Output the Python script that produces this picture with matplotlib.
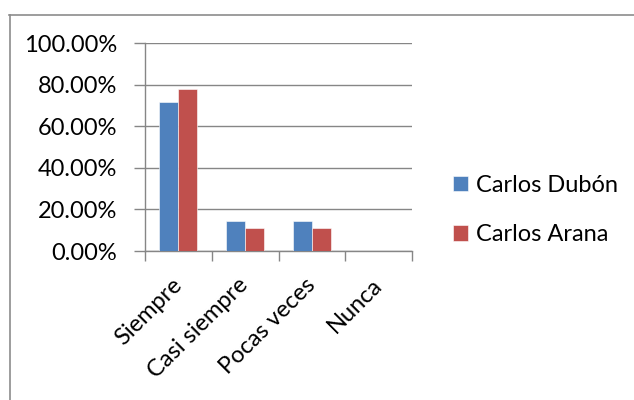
import matplotlib
matplotlib.use("Agg")
import matplotlib.pyplot as plt
from matplotlib.lines import Line2D
from matplotlib.ticker import FixedLocator, FuncFormatter

categories = ["Siempre", "Casi siempre", "Pocas veces", "Nunca"]
series_names = ["Carlos Dubón", "Carlos Arana"]
dubon = [71.43, 14.29, 14.29, 0.0]
arana = [77.78, 11.11, 11.11, 0.0]
y_ticks = [0, 20, 40, 60, 80, 100]

colors = ["#4F81BD", "#C0504D"]
grid_color = "#868686"

plt.rcParams["font.family"] = ["Lato", "DejaVu Sans"]
FS = 17

W, H = 634, 400
fig = plt.figure(figsize=(W / 100, H / 100), dpi=100)

# chart-area border (top and left edges)
fig.add_artist(Line2D([9 / W, 1.0], [1 - 14.5 / H, 1 - 14.5 / H],
                      color="#8C8C8C", lw=1.2, transform=fig.transFigure))
fig.add_artist(Line2D([9.5 / W, 9.5 / W], [0, 1 - 14.5 / H],
                      color="#8C8C8C", lw=1.2, transform=fig.transFigure))

left, right, top, bottom = 145, 412, 43, 251
ax = fig.add_axes([left / W, 1 - bottom / H, (right - left) / W, (bottom - top) / H])

bw = 0.285
centers = [i + 0.5 for i in range(len(categories))]
ax.bar([c - bw / 2 for c in centers], dubon, width=bw, color=colors[0],
       label=series_names[0], edgecolor="white", linewidth=0.4, zorder=3)
ax.bar([c + bw / 2 for c in centers], arana, width=bw, color=colors[1],
       label=series_names[1], edgecolor="white", linewidth=0.4, zorder=3)

ax.set_xlim(0, len(categories))
ax.set_ylim(0, 100)

ax.yaxis.set_major_locator(FixedLocator(y_ticks))
ax.yaxis.set_major_formatter(FuncFormatter(lambda v, p: f"{v:.2f}%"))
ax.grid(axis="y", color=grid_color, lw=1.0, zorder=0)
ax.tick_params(axis="y", length=8, width=1.0, color=grid_color, pad=12,
               labelsize=FS)

ax.set_xticks(range(len(categories) + 1))
ax.set_xticklabels([])
ax.set_xticks(centers, minor=True)
ax.set_xticklabels(categories, minor=True, rotation=45, ha="right",
                   va="center", rotation_mode="anchor", fontsize=FS)
ax.tick_params(axis="x", which="major", length=7, width=1.0, color=grid_color)
ax.tick_params(axis="x", which="minor", length=0, pad=22)

for s in ["top", "right"]:
    ax.spines[s].set_visible(False)
for s in ["left", "bottom"]:
    ax.spines[s].set_color(grid_color)
    ax.spines[s].set_linewidth(1.0)

fig.legend(loc="center left", bbox_to_anchor=(453 / W, 1 - 210 / H),
           frameon=False, fontsize=FS, handlelength=0.64, handleheight=0.64,
           handletextpad=0.35, labelspacing=1.2, borderpad=0,
           borderaxespad=0)

fig.savefig("out.png", dpi=100)
